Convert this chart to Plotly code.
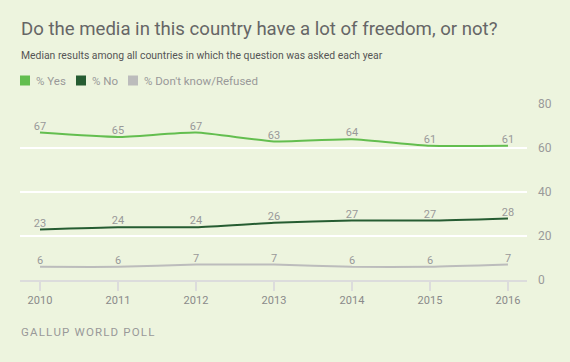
import plotly.graph_objects as go

years = [2010, 2011, 2012, 2013, 2014, 2015, 2016]
yes_vals = [67, 65, 67, 63, 64, 61, 61]
no_vals = [23, 24, 24, 26, 27, 27, 28]
dk_vals = [6, 6, 7, 7, 6, 6, 7]
series_names = ["% Yes", "% No", "% Don't know/Refused"]
series_colors = ["#63BE4F", "#265C32", "#BCBCBC"]
y_ticks = [0, 20, 40, 60, 80]

W, H = 570, 362
ML, MR, MT, MB = 20, 43, 104, 82
PW, PH = W - ML - MR, H - MT - MB
BG = "#EDF4DE"
FONT = "Roboto"

def px_x(px):
    return (px - ML) / PW

def px_y(py):
    return (H - MB - py) / PH

fig = go.Figure()
for name, vals, col in zip(series_names, [yes_vals, no_vals, dk_vals], series_colors):
    fig.add_trace(go.Scatter(
        x=years, y=vals, mode="lines+text", name=name,
        line=dict(color=col, width=2, shape="spline", smoothing=0.5),
        text=[str(v) for v in vals], textposition="top center",
        textfont=dict(family=FONT, size=11, color="#999999"),
        cliponaxis=False, showlegend=False, hoverinfo="skip",
    ))

fig.update_layout(
    width=W, height=H,
    margin=dict(l=ML, r=MR, t=MT, b=MB),
    paper_bgcolor=BG, plot_bgcolor=BG,
    font=dict(family=FONT, color="#888888"),
    xaxis=dict(
        range=[2009.744, 2016.244], tickvals=years, ticktext=[str(y) for y in years],
        showgrid=False, zeroline=False, showline=True, linecolor="#DCDCDC", linewidth=2,
        ticks="outside", ticklen=9, tickwidth=2, tickcolor="#DCDCDC",
        tickfont=dict(family=FONT, size=11, color="#8A8A8A"),
    ),
    yaxis=dict(
        range=[0, 80], tickvals=y_ticks, side="right",
        showgrid=True, gridcolor="#FFFFFF", gridwidth=2, zeroline=False,
        showline=False, ticks="", ticklabelstandoff=10,
        tickfont=dict(family=FONT, size=12, color="#9A9A9A"),
    ),
)

source_text = "\u200a".join("GALLUP WORLD POLL")
annotations = [
    dict(text="Do the media in this country have a lot of freedom, or not?", x=px_x(19), y=px_y(29),
         xanchor="left", yanchor="middle", font=dict(family=FONT, size=18.6, color="#666666")),
    dict(text="Median results among all countries in which the question was asked each year", x=px_x(19), y=px_y(55),
         xanchor="left", yanchor="middle", font=dict(family=FONT, size=10.4, color="#555555")),
    dict(text=source_text, x=px_x(19), y=px_y(332),
         xanchor="left", yanchor="middle", font=dict(family=FONT, size=11.5, color="#999999")),
]
legend_pos = [(20, 34), (76, 90), (128, 142)]
shapes = []
for (sx, tx), name, col in zip(legend_pos, series_names, series_colors):
    shapes.append(dict(type="rect", xref="paper", yref="paper",
                       x0=px_x(sx), x1=px_x(sx + 10), y0=px_y(85.5), y1=px_y(75.5),
                       fillcolor=col, line=dict(width=0)))
    annotations.append(dict(text=name, x=px_x(tx), y=px_y(80.5), xanchor="left", yanchor="middle",
                            font=dict(family=FONT, size=11.5, color="#999999")))
for a in annotations:
    a.update(xref="paper", yref="paper", showarrow=False)
fig.update_layout(annotations=annotations, shapes=shapes)

fig.write_html("out.html", config={"displayModeBar": False},
               post_script="document.body.style.margin='0';document.body.style.padding='0';")
